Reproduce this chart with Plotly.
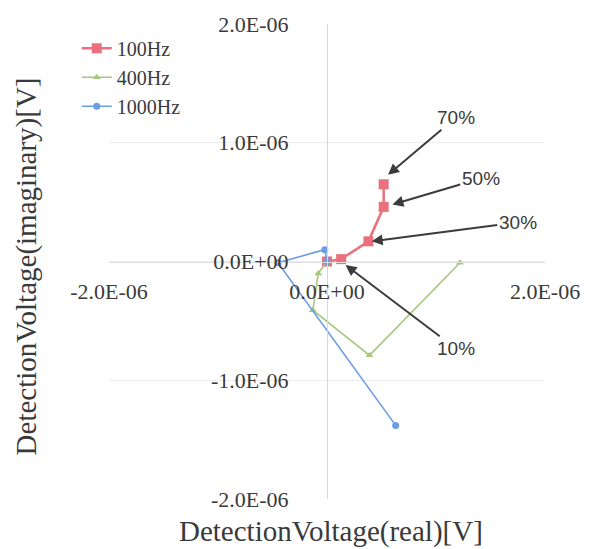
import plotly.graph_objects as go

# Detection voltage phasors (real, imaginary) in volts, per excitation frequency
freq_names = ["100Hz", "400Hz", "1000Hz"]
re_100 = [0.0, 0.13e-6, 0.38e-6, 0.52e-6, 0.52e-6]
im_100 = [0.0, 0.02e-6, 0.17e-6, 0.46e-6, 0.65e-6]
re_400 = [0.0, -0.08e-6, -0.13e-6, 0.39e-6, 1.22e-6]
im_400 = [0.0, -0.10e-6, -0.41e-6, -0.79e-6, -0.01e-6]
re_1000 = [0.0, -0.02e-6, -0.45e-6, 0.63e-6]
im_1000 = [0.0, 0.10e-6, -0.01e-6, -1.38e-6]

# Axis ticks
x_tickvals = [-2e-6, 0.0, 2e-6]
x_ticktext = ["-2.0E-06", "0.0E+00", "2.0E-06"]
y_tickvals = [-2e-6, -1e-6, 0.0, 1e-6, 2e-6]
y_ticktext = ["-2.0E-06", "-1.0E-06", "0.0E+00", "1.0E-06", "2.0E-06"]

# Callouts: label, arrow head (re, im), label position (re, im)
callout_text = ["70%", "50%", "30%", "10%"]
callout_head_re = [0.56e-6, 0.60e-6, 0.41e-6, 0.17e-6]
callout_head_im = [0.73e-6, 0.48e-6, 0.17e-6, -0.03e-6]
callout_lbl_re = [1.18e-6, 1.41e-6, 1.75e-6, 1.18e-6]
callout_lbl_im = [1.21e-6, 0.70e-6, 0.33e-6, -0.73e-6]

RED = "#E9707C"
GREEN = "#A6C77C"
BLUE = "#6D9CE6"
SERIF = "Liberation Serif, Times New Roman, serif"
SANS = "Liberation Sans, Arial, sans-serif"
TEXT = "#3a3a3a"

fig = go.Figure()
fig.add_trace(go.Scatter(
    x=re_100, y=im_100, name=freq_names[0], mode="lines+markers",
    line=dict(color=RED, width=2.5),
    marker=dict(symbol="square", size=10, color=RED)))
fig.add_trace(go.Scatter(
    x=re_400, y=im_400, name=freq_names[1], mode="lines+markers",
    line=dict(color=GREEN, width=1.6),
    marker=dict(symbol="triangle-up", size=7, color=GREEN)))
fig.add_trace(go.Scatter(
    x=re_1000, y=im_1000, name=freq_names[2], mode="lines+markers",
    line=dict(color=BLUE, width=1.6),
    marker=dict(symbol="circle", size=7, color=BLUE)))

for t, hx, hy, lx, ly in zip(callout_text, callout_head_re, callout_head_im,
                             callout_lbl_re, callout_lbl_im):
    fig.add_annotation(
        x=hx, y=hy, xref="x", yref="y",
        ax=lx, ay=ly, axref="x", ayref="y",
        text=t, showarrow=True, arrowhead=2, arrowsize=1.1, arrowwidth=2,
        arrowcolor="#3c3c3c", font=dict(family=SANS, size=19, color=TEXT))

# Axis titles
fig.add_annotation(
    text="DetectionVoltage(real)[V]", xref="paper", yref="paper",
    x=0.51, y=-0.068, xanchor="center", yanchor="middle", showarrow=False,
    font=dict(family=SERIF, size=29, color=TEXT))
fig.add_annotation(
    text="DetectionVoltage(imaginary)[V]", xref="paper", yref="paper",
    x=-0.19, y=0.49, xanchor="center", yanchor="middle", showarrow=False,
    textangle=-90, font=dict(family=SERIF, size=29, color=TEXT))

fig.update_layout(
    width=598, height=549,
    margin=dict(l=109, r=53, t=22, b=50),
    paper_bgcolor="white", plot_bgcolor="white",
    showlegend=True,
    legend=dict(x=-0.074, y=0.99, xanchor="left", yanchor="top",
                bgcolor="rgba(0,0,0,0)", borderwidth=0,
                font=dict(family=SERIF, size=20, color=TEXT),
                itemwidth=30, tracegroupgap=0),
    xaxis=dict(range=[-2e-6, 2e-6], anchor="free", position=0.5,
               tickvals=x_tickvals, ticktext=x_ticktext, ticks="",
               ticklabelstandoff=10, showgrid=False, zeroline=False,
               showline=True, linecolor="#e0e0e0", linewidth=1,
               tickfont=dict(family=SERIF, size=22, color=TEXT)),
    yaxis=dict(range=[-2e-6, 2e-6], anchor="free", position=0.5,
               tickvals=y_tickvals, ticktext=y_ticktext, ticks="",
               ticklabelstandoff=34, showgrid=True, gridcolor="#ececec",
               zeroline=False, showline=True, linecolor="#d8d8d8",
               linewidth=1,
               tickfont=dict(family=SERIF, size=22, color=TEXT)),
)

fig.write_html("out.html")
